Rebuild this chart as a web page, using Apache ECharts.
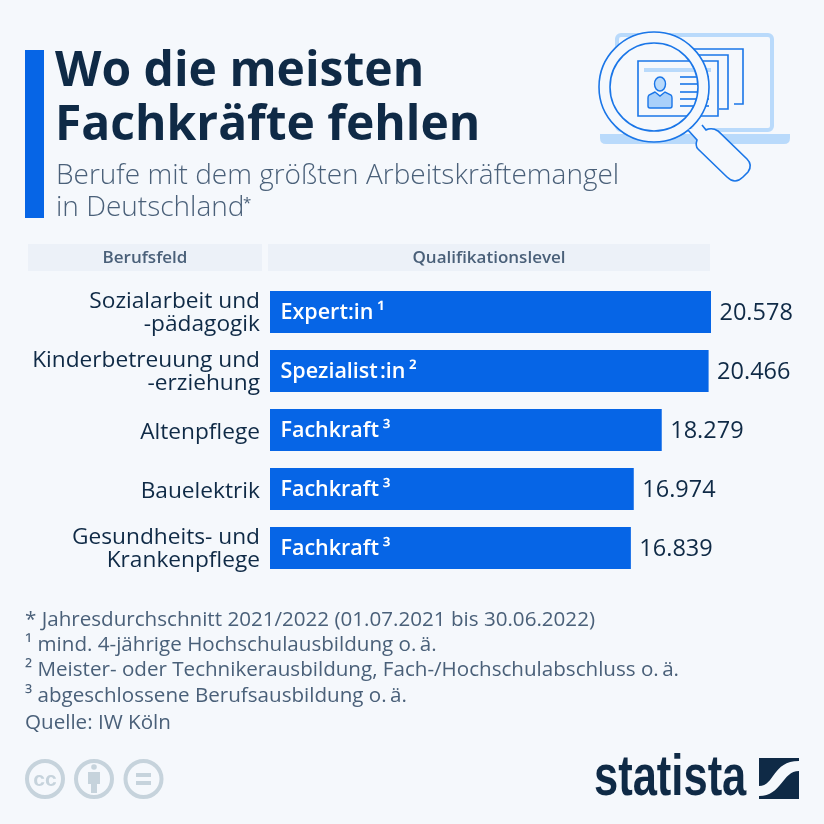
<!DOCTYPE html>
<html>
<head>
<meta charset="utf-8">
<style>
html, body { margin: 0; padding: 0; background: #f5f8fc; }
#chart { width: 824px; height: 824px; }
</style>
<script src="https://cdn.jsdelivr.net/npm/echarts@6/dist/echarts.min.js"></script>
</head>
<body>
<div id="chart"></div>
<script>
const categories = ['Sozialarbeit und\n-pädagogik', 'Kinderbetreuung und\n-erziehung', 'Altenpflege', 'Bauelektrik', 'Gesundheits- und\nKrankenpflege'];
const qualifications = ['Expert:in\u2009¹', 'Spezialist\u200a:in\u2009²', 'Fachkraft\u2009³', 'Fachkraft\u2009³', 'Fachkraft\u2009³'];
const shortages = [20578, 20466, 18279, 16974, 16839];
const titleLines = ['Wo die meisten', 'Fachkräfte fehlen'];
const subtitleLines = ['Berufe mit dem größten Arbeitskräftemangel', 'in Deutschland'];
const columnHeads = ['Berufsfeld', 'Qualifikationslevel'];
const footnotes = [
    '* Jahresdurchschnitt 2021/2022 (01.07.2021 bis 30.06.2022)',
    '¹ mind. 4-jährige Hochschulausbildung o.\u2009ä.',
    '² Meister- oder Technikerausbildung, Fach-/Hochschulabschluss o.\u2009ä.',
    '³ abgeschlossene Berufsausbildung o.\u2009ä.'
];
const sourceLine = 'Quelle: IW Köln';

const FONT = '"Open Sans", sans-serif';
const BLUE = '#0665e6';
const NAVY = '#0f2a46';
const SLATE = '#4a6079';
const BG = '#f5f8fc';
const LIGHT = '#b9dafb';
const ICON = '#1a76e8';
const GREY = '#c6d3dc';

function text(x, y, str, size, color, extra) {
    return {
        type: 'text', x: x, y: y, silent: true,
        style: Object.assign({ text: str, fontFamily: FONT, fontSize: size, fill: color, textVerticalAlign: 'middle' }, extra || {})
    };
}
function box(x, y, w, h, fill) {
    return { type: 'rect', shape: { x: x, y: y, width: w, height: h }, style: { fill: fill }, silent: true };
}

// the graphic component has no plain path type, so each outline is registered as a shape
let shapeCount = 0;
function pathEl(d, style) {
    const name = 'iconPath' + (shapeCount++);
    echarts.graphic.registerShape(name, echarts.graphic.extendPath(d, {}));
    return { type: name, silent: true, style: style };
}
function stroke(d, width, fill) {
    return pathEl(d, { fill: fill || 'none', stroke: ICON, lineWidth: width || 1.6 });
}
function solid(d, fill) {
    return pathEl(d, { fill: fill });
}

// header, column heads, footer furniture
function furniture() {
    const els = [box(25, 50, 19, 168, BLUE)];
    titleLines.forEach((t, i) => els.push(text(55, 72 + i * 54, t, 48, NAVY, { fontWeight: 700 })));
    subtitleLines.forEach((t, i) => els.push(text(56, 176 + i * 32.5, t, 28, SLATE, { fontWeight: 300 })));
    els.push(text(243, 204, '*', 15, SLATE));
    els.push(box(28, 244, 234, 27, '#ecf1f8'), box(268, 244, 442, 27, '#ecf1f8'));
    els.push(text(145, 258, columnHeads[0], 17, SLATE, { fontWeight: 600, textAlign: 'center' }));
    els.push(text(489, 258, columnHeads[1], 17, SLATE, { fontWeight: 600, textAlign: 'center' }));
    footnotes.forEach((t, i) => els.push(text(25, 620 + i * 25.3, t, 20.6, SLATE)));
    els.push(text(25, 723, sourceLine, 20.6, SLATE));
    return els;
}

// magnifier over laptop illustration
function illustration() {
    const els = [];
    els.push({ type: 'rect', shape: { x: 617, y: 35, width: 155, height: 95, r: 4 }, silent: true, style: { fill: 'none', stroke: LIGHT, lineWidth: 4 } });
    els.push(solid('M600 134 H790 V138 Q790 144 784 144 H606 Q600 144 600 138 Z', LIGHT));
    els.push(stroke('M663 55 V49 H743 V104 H734'));
    els.push(stroke('M649 60 V55 H728 V109 H719'));
    els.push({ type: 'circle', shape: { cx: 654, cy: 87, r: 44 }, silent: true, style: { fill: BG } });
    els.push({ type: 'rect', shape: { x: 638, y: 61, width: 80, height: 55 }, silent: true, style: { fill: BG, stroke: ICON, lineWidth: 1.6 } });
    els.push(box(644, 68, 67, 4, LIGHT));
    [77, 84, 92, 99, 106].forEach(y => els.push(stroke('M680 ' + y + ' H709')));
    els.push({ type: 'ellipse', shape: { cx: 660, cy: 84, rx: 5.5, ry: 7 }, silent: true, style: { fill: LIGHT, stroke: ICON, lineWidth: 1.4 } });
    els.push(stroke('M655 92 L649 95 Q648 96 648 98 V106 Q648 108 650 108 H670 Q672 108 672 106 V98 Q672 96 671 95 L665 92 L660 96 Z', 1.4, '#a9d0fa'));
    // ring hides what sits under it
    els.push({ type: 'ring', shape: { cx: 654, cy: 87, r: 55, r0: 44 }, silent: true, style: { fill: BG, stroke: ICON, lineWidth: 1.6 } });
    els.push(stroke('M688 130 L697 140 Q695 146 698 149 L727 177 Q735 185 743 177 L748 172 Q753 165 747 159 L718 131 Q712 127 706 130 L702 125', 1.6, BG));
    return els;
}

function footerMarks() {
    const els = [];
    [45, 94, 143.5].forEach(cx => {
        els.push({ type: 'circle', shape: { cx: cx, cy: 779, r: 18 }, silent: true, style: { fill: BG, stroke: GREY, lineWidth: 4 } });
    });
    els.push(text(45, 780, 'cc', 21, GREY, { fontWeight: 700, textAlign: 'center', fontFamily: '"Liberation Sans", sans-serif' }));
    els.push({ type: 'circle', shape: { cx: 94, cy: 767, r: 2.8 }, silent: true, style: { fill: GREY } });
    els.push(box(88, 772, 12, 12, GREY), box(91, 784, 6, 9, GREY));
    els.push(box(136, 773, 15, 4, GREY), box(136, 781, 15, 4, GREY));
    // logo wordmark is tall and narrow, squeeze the bold sans to fit
    els.push({
        type: 'text', x: 594, y: 779, scaleX: 0.75, silent: true,
        style: { text: 'statista', fontFamily: '"Liberation Sans", sans-serif', fontWeight: 700, fontSize: 58, fill: NAVY, textVerticalAlign: 'middle' }
    });
    els.push(box(759, 758, 40, 41, NAVY));
    els.push(solid('M799 761 V771 C782 771 782 796 759 796 V786 C775 786 772 761 799 761 Z', BG));
    return els;
}

// one-line labels sit lower in the reference than two-line ones
function categoryLabel(value) {
    const lines = value.split('\n');
    const token = lines.length > 1 ? 'pair' : 'single';
    return lines.map(l => '{' + token + '|' + l + '}').join('\n');
}
const labelBase = { fontFamily: FONT, fontSize: 22.7, lineHeight: 23.5, color: NAVY, align: 'right' };

const chart = echarts.init(document.getElementById('chart'), null, { renderer: 'canvas' });
chart.setOption({
    backgroundColor: BG,
    animation: false,
    grid: { left: 270, top: 282.5, width: 441, height: 295 },
    xAxis: { type: 'value', min: 0, max: 20578, show: false },
    yAxis: {
        type: 'category', inverse: true, data: categories,
        axisLine: { show: false }, axisTick: { show: false },
        axisLabel: {
            margin: 10, align: 'right', formatter: categoryLabel,
            rich: {
                pair: Object.assign({ padding: [2, 0, 0, 0] }, labelBase),
                single: Object.assign({ padding: [6, 0, 0, 0] }, labelBase)
            }
        }
    },
    series: [
        {
            type: 'bar', data: shortages, barWidth: 42, barGap: '-100%',
            itemStyle: { color: BLUE },
            label: {
                show: true, position: 'insideLeft', distance: 10.5, offset: [0, 0.5],
                formatter: p => qualifications[p.dataIndex],
                fontFamily: FONT, fontSize: 21.5, fontWeight: 600, color: '#ffffff'
            }
        },
        {
            type: 'bar', data: shortages, barWidth: 42,
            itemStyle: { color: 'transparent' },
            label: {
                show: true, position: 'right', distance: 8.5, offset: [0, 1],
                formatter: p => String(p.value).replace(/(\d{3})$/, '.$1'),
                fontFamily: FONT, fontSize: 23.5, color: NAVY
            }
        }
    ],
    graphic: { elements: [...furniture(), ...illustration(), ...footerMarks()] }
});
</script>
</body>
</html>
